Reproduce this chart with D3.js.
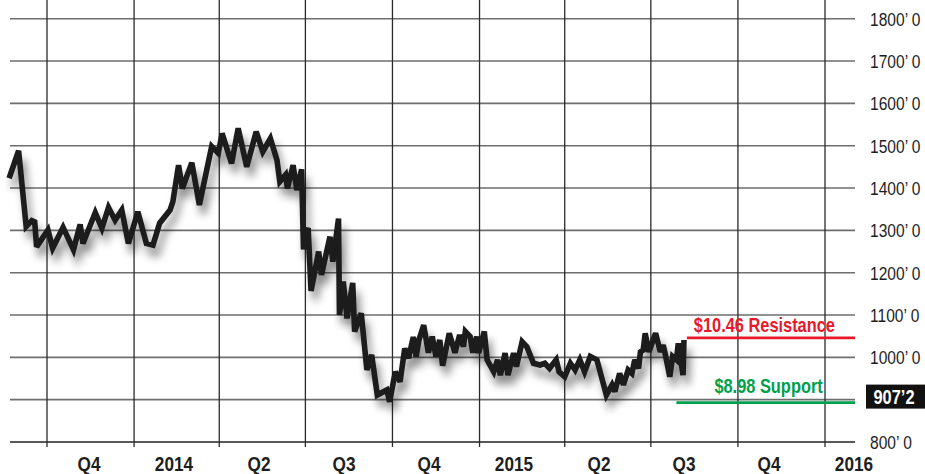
<!DOCTYPE html>
<html><head><meta charset="utf-8">
<script src="https://cdn.jsdelivr.net/npm/d3@7"></script>
<style>
html,body{margin:0;padding:0;background:#fff;}
svg{display:block;}
text{font-family:"Liberation Sans",Arial,sans-serif;}
</style></head>
<body><svg id="c" width="925" height="474"></svg>
<script>
const dates = ["2013-08-22","2013-09-01","2013-09-09","2013-09-15","2013-09-18","2013-09-20","2013-10-02","2013-10-07","2013-10-18","2013-10-29",
"2013-11-05","2013-11-08","2013-11-21","2013-11-28","2013-12-05","2013-12-12","2013-12-19","2013-12-26","2014-01-05","2014-01-14",
"2014-01-21","2014-01-28","2014-02-08","2014-02-11","2014-02-17","2014-02-21","2014-03-03","2014-03-11","2014-03-24","2014-03-31",
"2014-04-04","2014-04-14","2014-04-21","2014-04-30","2014-05-10","2014-05-17","2014-05-25","2014-06-01","2014-06-04","2014-06-10",
"2014-06-12","2014-06-18","2014-06-22","2014-06-27","2014-06-29","2014-07-02","2014-07-04","2014-07-07","2014-07-15","2014-07-18",
"2014-07-27","2014-07-30","2014-08-05","2014-08-06","2014-08-10","2014-08-14","2014-08-20","2014-08-22","2014-08-29","2014-09-04",
"2014-09-09","2014-09-15","2014-09-25","2014-09-28","2014-10-04","2014-10-09","2014-10-14","2014-10-18","2014-10-23","2014-10-26",
"2014-10-29","2014-11-03","2014-11-08","2014-11-12","2014-11-16","2014-11-20","2014-11-23","2014-11-30","2014-12-06","2014-12-11",
"2014-12-15","2014-12-17","2014-12-22","2014-12-25","2014-12-29","2014-12-31","2015-01-06","2015-01-09","2015-01-16","2015-01-20",
"2015-01-23","2015-01-28","2015-01-31","2015-02-06","2015-02-09","2015-02-15","2015-02-20","2015-02-27","2015-03-06","2015-03-11",
"2015-03-16","2015-03-23","2015-03-26","2015-04-01","2015-04-07","2015-04-12","2015-04-17","2015-04-22","2015-04-28","2015-05-05",
"2015-05-15","2015-05-21","2015-05-24","2015-05-29","2015-06-02","2015-06-07","2015-06-11","2015-06-14","2015-06-18","2015-06-20",
"2015-06-23","2015-06-25","2015-06-29","2015-07-06","2015-07-11","2015-07-14","2015-07-16","2015-07-21","2015-07-24","2015-07-28",
"2015-07-30","2015-08-04","2015-08-05"];
const prices = [1423,1488,1309,1323,1320,1261,1301,1258,1307,1254,
1314,1269,1342,1305,1354,1324,1348,1269,1344,1269,
1265,1317,1348,1368,1454,1399,1460,1360,1498,1482,
1529,1458,1541,1450,1533,1486,1517,1466,1415,1431,
1399,1454,1395,1444,1255,1301,1300,1157,1250,1195,
1285,1226,1328,1100,1179,1092,1176,1061,1104,970,
1006,911,923,895,966,942,1021,998,1048,1002,
1041,1076,1011,1049,1002,1041,980,1057,1011,1053,
1025,1061,1049,1011,1049,1010,1061,994,966,994,
958,1010,958,1010,978,1037,1025,986,982,986,
974,994,966,954,986,970,994,966,1002,994,
911,935,919,962,935,970,962,994,974,1013,
1017,1057,1013,1057,1013,1029,1010,954,1002,994,
1033,958,1041];
const yTicks = [800,900,1000,1100,1200,1300,1400,1500,1600,1700,1800];
const quarterLabels = ["Q4","2014","Q2","Q3","Q4","2015","Q2","Q3","Q4","2016"];
const lastPrice = 907.25, lastLabel = "907\u20192";
const resistance = {value:1046, start:"2015-08-08", label:"$10.46 Resistance"};
const support = {value:893, start:"2015-07-28", label:"$8.98 Support"};

const svg = d3.select("#c");
const parse = d3.utcParse("%Y-%m-%d");
const x = d3.scaleUtc().domain([parse("2013-10-01"), parse("2016-01-01")]).range([47,825]);
const y = d3.scaleLinear().domain([800,1800]).range([442,18.7]);
const left = 10, right = 855;
const NARROW = 0.82;

function ntext(sel, tx, ty, str, size, weight, fill, anchor, dy){
  return sel.append("text")
    .attr("transform",`translate(${tx},${ty}) scale(${NARROW},1)`)
    .attr("font-size",size).attr("font-weight",weight).attr("fill",fill)
    .attr("text-anchor",anchor||"start").attr("dy",dy||null).text(str);
}

const defs = svg.append("defs");
const f = defs.append("filter").attr("id","sh").attr("x","-10%").attr("y","-20%").attr("width","130%").attr("height","150%");
f.append("feGaussianBlur").attr("in","SourceAlpha").attr("stdDeviation",4).attr("result","b");
f.append("feOffset").attr("in","b").attr("dx",4).attr("dy",9).attr("result","o");
f.append("feComponentTransfer").attr("in","o").attr("result","o2").append("feFuncA").attr("type","linear").attr("slope",0.45);
const m = f.append("feMerge"); m.append("feMergeNode").attr("in","o2"); m.append("feMergeNode").attr("in","SourceGraphic");

// horizontal grid
svg.append("g").selectAll("line").data(yTicks).join("line")
  .attr("x1",left).attr("x2",right).attr("y1",d=>y(d)).attr("y2",d=>y(d))
  .attr("stroke",d=>d===800?"#222":"#6e6e6e").attr("stroke-width",1.6);
// vertical grid
const qTicks = x.ticks(d3.utcMonth.every(3));
svg.append("g").selectAll("line").data(qTicks).join("line")
  .attr("x1",d=>x(d)).attr("x2",d=>x(d)).attr("y1",0).attr("y2",447)
  .attr("stroke","#2a2a2a").attr("stroke-width",1.3);
// right labels
const gy = svg.append("g");
yTicks.forEach(d=>ntext(gy, 870, y(d), d+"\u2019 0", 19, "normal", "#1e1e1e", "start", "0.36em"));
// bottom labels
const lx = d3.scalePoint().domain(d3.range(quarterLabels.length)).range([89,854]);
const gx = svg.append("g");
quarterLabels.forEach((d,i)=>ntext(gx, lx(i), 470.5, d, 21, "bold", "#1e1e1e", "middle"));

// resistance / support
[[resistance,"#e8192c"],[support,"#00a04a"]].forEach(([r,c])=>{
  svg.append("line").attr("x1",x(parse(r.start))).attr("x2",right).attr("y1",y(r.value)).attr("y2",y(r.value))
    .attr("stroke",c).attr("stroke-width",2.6);
});
ntext(svg, x(parse(resistance.start))+7, y(resistance.value)-6, resistance.label, 20, "bold", "#e8192c");
ntext(svg, x(parse(support.start))+38, y(support.value)-10, support.label, 20, "bold", "#00a04a");

// price line
const data = dates.map((d,i)=>({d:parse(d),v:prices[i]}));
svg.append("path").datum(data)
  .attr("d",d3.line().x(p=>x(p.d)).y(p=>y(p.v)))
  .attr("fill","none").attr("stroke","#1c1a1b").attr("stroke-width",5.6)
  .attr("stroke-linejoin","miter").attr("stroke-miterlimit",3).attr("filter","url(#sh)");

// last price box
svg.append("rect").attr("x",866).attr("y",y(lastPrice)-12).attr("width",59).attr("height",24).attr("fill","#111");
ntext(svg, 894, y(lastPrice), lastLabel, 20, "bold", "#fff", "middle", "0.36em");
</script></body></html>
